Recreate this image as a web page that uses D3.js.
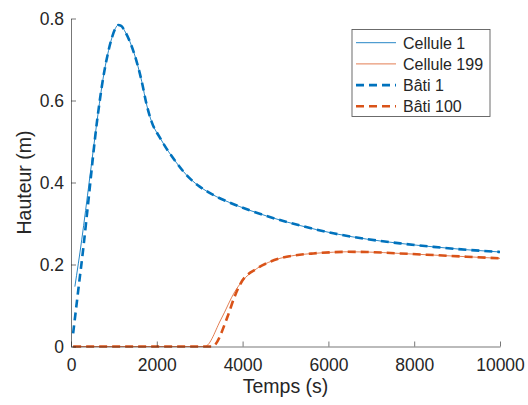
<!DOCTYPE html>
<html>
<head>
<meta charset="utf-8">
<script src="https://cdn.jsdelivr.net/npm/d3@7/dist/d3.min.js"></script>
<style>
html, body { margin: 0; padding: 0; background: #fff; }
svg { display: block; }
text { font-family: "Liberation Sans", Arial, Helvetica, sans-serif; fill: #262626; }
</style>
</head>
<body>
<svg id="chart" width="528" height="405"></svg>
<script>
// ---- data ----
const cellule1T = [90, 250, 430, 610, 750, 850, 950, 1030, 1100, 1170, 1250, 1375, 1530, 1650, 1765, 1880, 2075, 2460, 2618, 2800, 3000, 3200, 3400, 3700, 4170, 4950, 5340, 6115, 6890, 7670, 8450, 9220, 10000];
const cellule1V = [0.146, 0.26, 0.406, 0.552, 0.655, 0.71, 0.752, 0.775, 0.784, 0.782, 0.77, 0.743, 0.695, 0.646, 0.589, 0.548, 0.509, 0.448, 0.427, 0.407, 0.39, 0.3765, 0.365, 0.351, 0.332, 0.306, 0.295, 0.276, 0.262, 0.2515, 0.243, 0.236, 0.2305];

const bati1T = [50, 170, 290, 380, 610, 750, 850, 950, 1030, 1100, 1170, 1250, 1375, 1530, 1650, 1765, 1880, 2075, 2460, 2618, 2800, 3000, 3200, 3400, 3700, 4170, 4950, 5340, 6115, 6890, 7670, 8450, 9220, 10000];
const bati1V = [0.032, 0.138, 0.243, 0.33, 0.552, 0.655, 0.71, 0.752, 0.775, 0.784, 0.782, 0.77, 0.743, 0.695, 0.646, 0.589, 0.548, 0.509, 0.448, 0.427, 0.407, 0.39, 0.3765, 0.365, 0.351, 0.332, 0.306, 0.295, 0.276, 0.262, 0.2515, 0.243, 0.236, 0.2305];

const cellule199T = [50, 3120, 3500, 3820, 3980, 4330, 4600, 4870, 5200, 5650, 6120, 6430, 6890, 7670, 8450, 9220, 10000];
const cellule199V = [0, 0, 0.067, 0.134, 0.158, 0.19, 0.205, 0.215, 0.222, 0.227, 0.23, 0.231, 0.2305, 0.227, 0.223, 0.219, 0.215];

const bati100T = [50, 3290, 3650, 3800, 3950, 4330, 4600, 4870, 5200, 5650, 6120, 6430, 6890, 7670, 8450, 9220, 10000];
const bati100V = [0, 0, 0.073, 0.118, 0.153, 0.19, 0.205, 0.215, 0.222, 0.227, 0.23, 0.231, 0.2305, 0.227, 0.223, 0.219, 0.215];

const xTicks = [0, 2000, 4000, 6000, 8000, 10000];
const yTicks = [0, 0.2, 0.4, 0.6, 0.8];
const xLabel = "Temps (s)";
const yLabel = "Hauteur (m)";
const legendLabels = ["Cellule 1", "Cellule 199", "Bâti 1", "Bâti 100"];

// ---- layout ----
const svg = d3.select("#chart");
const mLeft = 71, mRight = 500, mTop = 18.5, mBottom = 346.5;
const x = d3.scaleLinear().domain([0, 10000]).range([mLeft, mRight]);
const y = d3.scaleLinear().domain([0, 0.8]).range([mBottom, mTop]);

const blue = "#0072BD", orange = "#D95319";
const axisColor = "#262626";

const series = [
  { t: cellule1T, v: cellule1V, color: blue, width: 1, dash: null, op: 0.85 },
  { t: cellule199T, v: cellule199V, color: orange, width: 1, dash: null, op: 0.75 },
  { t: bati1T, v: bati1V, color: blue, width: 2.6, dash: "8,5", op: 1 },
  { t: bati100T, v: bati100V, color: orange, width: 2.6, dash: "8,5", op: 1 }
];

const line = d3.line().x(d => x(d[0])).y(d => y(d[1])).curve(d3.curveMonotoneX);

const plot = svg.append("g");
series.forEach(s => {
  const pts = s.t.map((t, i) => [t, s.v[i]]);
  plot.append("path")
    .datum(pts)
    .attr("d", line)
    .attr("fill", "none")
    .attr("stroke", s.color)
    .attr("stroke-width", s.width)
    .attr("stroke-opacity", s.op)
    .attr("stroke-dasharray", s.dash)
    .attr("stroke-linejoin", "round");
});

// ---- axes ----
const xAxis = d3.axisBottom(x).tickValues(xTicks).tickSizeInner(-5).tickSizeOuter(0).tickPadding(12)
  .tickFormat(d3.format("d"));
const gx = svg.append("g").attr("transform", `translate(0,${mBottom})`).call(xAxis);
gx.select(".domain").attr("stroke", axisColor).attr("stroke-width", 0.9).attr("stroke-opacity", 0.7);
gx.selectAll(".tick line").attr("stroke", axisColor).attr("stroke-width", 0.9).attr("stroke-opacity", 0.7);
gx.selectAll(".tick text").attr("font-size", "17.5px").attr("fill", "#262626")
  .attr("font-family", "'Liberation Sans', Arial, sans-serif").attr("dy", "0.71em");

const yAxis = d3.axisLeft(y).tickValues(yTicks).tickSizeInner(-5).tickSizeOuter(0).tickPadding(7)
  .tickFormat(d => d === 0 ? "0" : d3.format(".1f")(d));
const gy = svg.append("g").attr("transform", `translate(${mLeft},0)`).call(yAxis);
gy.select(".domain").attr("stroke", axisColor).attr("stroke-width", 0.9).attr("stroke-opacity", 0.7);
gy.selectAll(".tick line").attr("stroke", axisColor).attr("stroke-width", 0.9).attr("stroke-opacity", 0.7);
gy.selectAll(".tick text").attr("font-size", "17.5px").attr("fill", "#262626")
  .attr("font-family", "'Liberation Sans', Arial, sans-serif");

// axis labels
svg.append("text").attr("x", (mLeft + mRight) / 2).attr("y", 393)
  .attr("text-anchor", "middle").attr("font-size", "19.5px").text(xLabel);
svg.append("text").attr("transform", `translate(31,${(mTop + mBottom) / 2}) rotate(-90)`)
  .attr("text-anchor", "middle").attr("font-size", "19.5px").text(yLabel);

// ---- legend ----
const lg = svg.append("g");
lg.append("rect").attr("x", 352).attr("y", 29.5).attr("width", 138).attr("height", 87)
  .attr("fill", "#fff").attr("stroke", axisColor).attr("stroke-width", 0.9).attr("stroke-opacity", 0.75);
const rowY = [42.7, 63.9, 85.1, 106.3];
series.forEach((s, i) => {
  lg.append("line").attr("x1", 356).attr("x2", 396).attr("y1", rowY[i]).attr("y2", rowY[i])
    .attr("stroke", s.color).attr("stroke-width", s.width).attr("stroke-opacity", s.op)
    .attr("stroke-dasharray", s.dash);
  lg.append("text").attr("x", 403).attr("y", rowY[i] + 5.8).attr("font-size", "16px").text(legendLabels[i]);
});
</script>
</body>
</html>
